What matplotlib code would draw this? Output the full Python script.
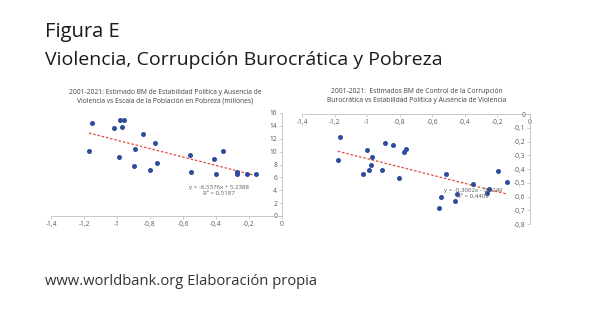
import numpy as np
import matplotlib
matplotlib.use('Agg')
import matplotlib.pyplot as plt
from matplotlib.ticker import FuncFormatter

# left chart: political stability vs poverty (millions)
est_x = [-1.17, -1.15, -1.02, -0.99, -0.98, -0.96, -0.97, -0.90, -0.89, -0.84, -0.80,
         -0.77, -0.76, -0.56, -0.55, -0.41, -0.40, -0.36, -0.275, -0.27, -0.21, -0.16]
pobreza = [10.1, 14.5, 13.6, 9.2, 14.9, 14.9, 13.8, 7.7, 10.4, 12.7, 7.2,
           11.3, 8.2, 9.5, 6.9, 8.8, 6.6, 10.1, 6.6, 6.9, 6.5, 6.6]
fit_left = (-6.5376, 5.2388)
r2_left = 0.5187

# right chart: political stability vs control of corruption
est_x2 = [-1.18, -1.165, -1.027, -1.0, -0.99, -0.97, -0.975, -0.907, -0.893, -0.841, -0.804,
          -0.773, -0.759, -0.557, -0.546, -0.518, -0.458, -0.45, -0.353, -0.266, -0.254,
          -0.194, -0.144]
corrupcion = [-0.337, -0.164, -0.434, -0.26, -0.41, -0.313, -0.369, -0.41, -0.214, -0.229, -0.465,
              -0.277, -0.251, -0.684, -0.602, -0.439, -0.631, -0.583, -0.506, -0.578, -0.542,
              -0.412, -0.492]
fit_right = (-0.3002, -0.6249)
r2_right = 0.4409

DOT = '#2E4C9E'
RED = '#E0483E'
GRAY = '#BFBFBF'
TXT = '#595959'


def fmt(v, p):
    if abs(v) < 1e-9:
        return '0'
    return ('%g' % round(v, 2)).replace('.', ',')


comma = FuncFormatter(fmt)


def trend(ax, x, coef, r2, pos):
    xs = np.array([min(x), max(x)])
    ax.plot(xs, coef[0] * xs + coef[1], linestyle=(0, (2, 1.5)), color=RED, lw=0.9, zorder=2)
    sign = '+' if coef[1] >= 0 else '-'
    s = 'y = %sx %s %s\nR² = %s' % (('%.4f' % coef[0]).replace('.', ','), sign,
                                   ('%.4f' % abs(coef[1])).replace('.', ','),
                                   ('%.4f' % r2).replace('.', ','))
    ax.text(pos[0], pos[1], s, fontsize=4.4, color=TXT, ha='center', va='top',
            linespacing=1.1, zorder=4)


def style(ax):
    for sp in ax.spines.values():
        sp.set_color(GRAY)
        sp.set_linewidth(0.6)
    ax.tick_params(colors=GRAY, labelcolor=TXT, labelsize=4.8, length=2, width=0.5, pad=1.5)
    ax.xaxis.set_major_formatter(comma)
    ax.yaxis.set_major_formatter(comma)
    ax.set_xlim(-1.4, 0)
    ax.set_xticks(np.arange(-1.4, 0.01, 0.2))
    ax.spines['top'].set_visible(False)
    ax.spines['right'].set_visible(False)
    ax.spines['left'].set_position(('data', 0))
    ax.patch.set_alpha(0)


fig = plt.figure(figsize=(5.89, 3.31), dpi=100)
plt.rcParams['font.family'] = ['Open Sans', 'DejaVu Sans']

fig.text(45 / 589, 1 - 37 / 331, 'Figura E', fontsize=14.5, color='#1a1a1a', va='baseline')
fig.text(45 / 589, 1 - 65 / 331, 'Violencia, Corrupción Burocrática y Pobreza', fontsize=14,
         color='#1a1a1a', va='baseline')
fig.text(45 / 589, 1 - 285 / 331, 'www.worldbank.org Elaboración propia', fontsize=10.6,
         color='#333333', va='baseline')

# left
ax1 = fig.add_axes([51 / 589, 1 - 216 / 331, 231 / 589, 103 / 331])
style(ax1)
ax1.set_ylim(0, 16)
ax1.set_yticks(range(0, 17, 2))
ax1.scatter(est_x, pobreza, s=13, color=DOT, zorder=3, linewidths=0)
trend(ax1, est_x, fit_left, r2_left, (-0.38, 4.8))
fig.text(165 / 589, 1 - 97 / 331,
         '2001-2021: Estimado BM de Estabilidad Política y Ausencia de\n'
         'Violencia vs Escala de la Población en Pobreza (millones)',
         fontsize=4.9, color='#404040', ha='center', va='center', linespacing=1.25)

# right
ax2 = fig.add_axes([302 / 589, 1 - 224 / 331, 228 / 589, 110 / 331])
style(ax2)
ax2.set_ylim(-0.8, 0)
ax2.set_yticks(np.arange(-0.8, 0.01, 0.1))
ax2.spines['bottom'].set_position(('data', 0))
trend(ax2, est_x2, fit_right, r2_right, (-0.35, -0.535))
ax2.scatter(est_x2, corrupcion, s=13, color=DOT, zorder=3, linewidths=0)
fig.text(417 / 589, 1 - 96 / 331,
         '2001-2021:  Estimados BM de Control de la Corrupción\n'
         'Burocrática vs Estabilidad Política y Ausencia de Violencia',
         fontsize=4.9, color='#404040', ha='center', va='center', linespacing=1.25)

fig.savefig('out.png', dpi=100, facecolor='white')
